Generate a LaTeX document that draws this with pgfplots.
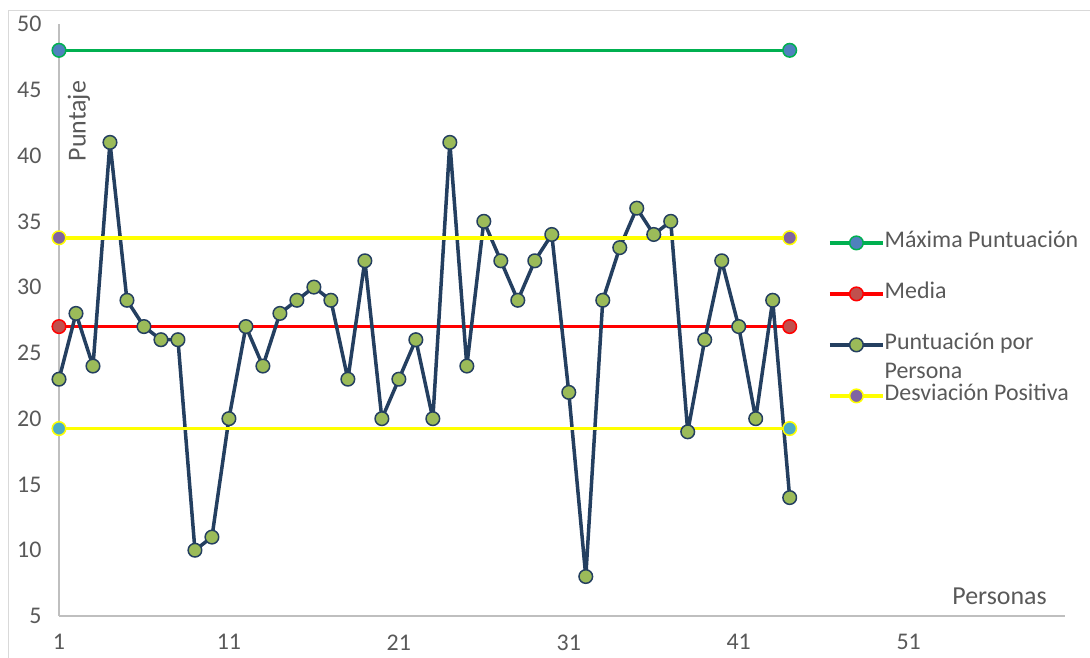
\documentclass[border=0pt]{standalone}
\usepackage{pgfplots}
\pgfplotsset{compat=1.18}
\usepackage{fontspec}
\setmainfont{Carlito}
\definecolor{maxGreen}{HTML}{00B050}
\definecolor{maxFill}{HTML}{4F81BD}
\definecolor{mediaRed}{HTML}{FF0000}
\definecolor{mediaFill}{HTML}{C0504D}
\definecolor{navy}{HTML}{243F60}
\definecolor{olive}{HTML}{9BBB59}
\definecolor{desvYellow}{HTML}{FFFF00}
\definecolor{desvPurple}{HTML}{8064A2}
\definecolor{desvCyan}{HTML}{4BACC6}
\definecolor{txtGray}{HTML}{595959}
\definecolor{axGray}{HTML}{BFBFBF}
\definecolor{frameGray}{HTML}{D9D9D9}
\begin{document}
\begin{tikzpicture}[x=1bp,y=1bp]
\begin{axis}[
    name=ax, at={(0,0)}, anchor=south west,
    scale only axis, width=1006bp, height=592bp,
    xmin=1, xmax=60.2, ymin=5, ymax=50,
    axis x line=bottom, axis y line=left,
    axis line style={-, draw=axGray, line width=1.2bp},
    xtick={1,11,21,31,41,51}, ytick={5,10,...,50},
    major tick length=0,
    tick label style={font=\fontsize{24}{28}\selectfont, text=txtGray},
    /pgf/number format/assume math mode=true,
    yticklabel style={xshift=-14bp},
    xticklabel style={yshift=-15bp},
    ylabel={Puntaje},
    ylabel style={at={(rel axis cs:0.0199,0.836)}, anchor=center,
                  font=\fontsize{26}{30}\selectfont, text=txtGray},
    xlabel={Personas},
    xlabel style={at={(rel axis cs:0.935,0.034)}, anchor=center,
                  font=\fontsize{26}{30}\selectfont, text=txtGray},
    legend style={at={(rel axis cs:0.7644,0.6466)}, anchor=north west,
                  draw=none, fill=none, inner sep=0pt,
                  font=\fontsize{24}{24}\selectfont, text=txtGray,
                  row sep=32bp,
                  nodes={inner sep=0pt, text height=14bp, text depth=5bp},
                  /tikz/every even column/.append style={column sep=8bp}},
    legend cell align=left,
    legend image code/.code={\draw[mark repeat=2, mark phase=2, #1]
        plot coordinates {(0bp,0bp) (26.5bp,0bp) (53bp,0bp)};},
    clip=false,
]
    % maxima puntuacion
    \addplot[maxGreen, line width=3.5bp, mark=*, mark size=6.8bp,
             mark options={fill=maxFill, draw=maxGreen, line width=1.5bp}]
      coordinates {(1,48) (44,48)};
    \addlegendentry{Máxima Puntuación}
    % media
    \addplot[mediaRed, line width=3.5bp, mark=*, mark size=6.8bp,
             mark options={fill=mediaFill, draw=mediaRed, line width=1.5bp}]
      coordinates {(1,27) (44,27)};
    \addlegendentry{Media}
    % puntuacion por persona
    \addplot[navy, line width=3.5bp, line join=round, mark=*, mark size=6.8bp,
             mark options={fill=olive, draw=navy, line width=1.5bp}]
      table[x=x, y=y] {
        x  y
        1  23
        2  28
        3  24
        4  41
        5  29
        6  27
        7  26
        8  26
        9  10
        10 11
        11 20
        12 27
        13 24
        14 28
        15 29
        16 30
        17 29
        18 23
        19 32
        20 20
        21 23
        22 26
        23 20
        24 41
        25 24
        26 35
        27 32
        28 29
        29 32
        30 34
        31 22
        32 8
        33 29
        34 33
        35 36
        36 34
        37 35
        38 19
        39 26
        40 32
        41 27
        42 20
        43 29
        44 14
      };
    \addlegendentry{\smash{\renewcommand\arraystretch{1.2}\begin{tabular}[t]{@{}l@{}}Puntuación por\\Persona\end{tabular}}}
    % desviacion positiva
    \addplot[desvYellow, line width=3.5bp, mark=*, mark size=6.8bp,
             mark options={fill=desvPurple, draw=desvYellow, line width=1.5bp}]
      coordinates {(1,33.75) (44,33.75)};
    \addlegendentry{Desviación Positiva}
    % desviacion negativa
    \addplot[desvYellow, line width=3.5bp, mark=*, mark size=6.8bp, forget plot,
             mark options={fill=desvCyan, draw=desvYellow, line width=1.5bp}]
      coordinates {(1,19.25) (44,19.25)};
\end{axis}
\pgfresetboundingbox
\path[use as bounding box] ([shift={(-59,-42)}]ax.south west) rectangle ([shift={(1031,616)}]ax.south west);
\draw[line width=1bp, frameGray] ([shift={(-50.5,-52)}]ax.south west) rectangle ([shift={(1045,605.5)}]ax.south west);
\end{tikzpicture}
\end{document}
